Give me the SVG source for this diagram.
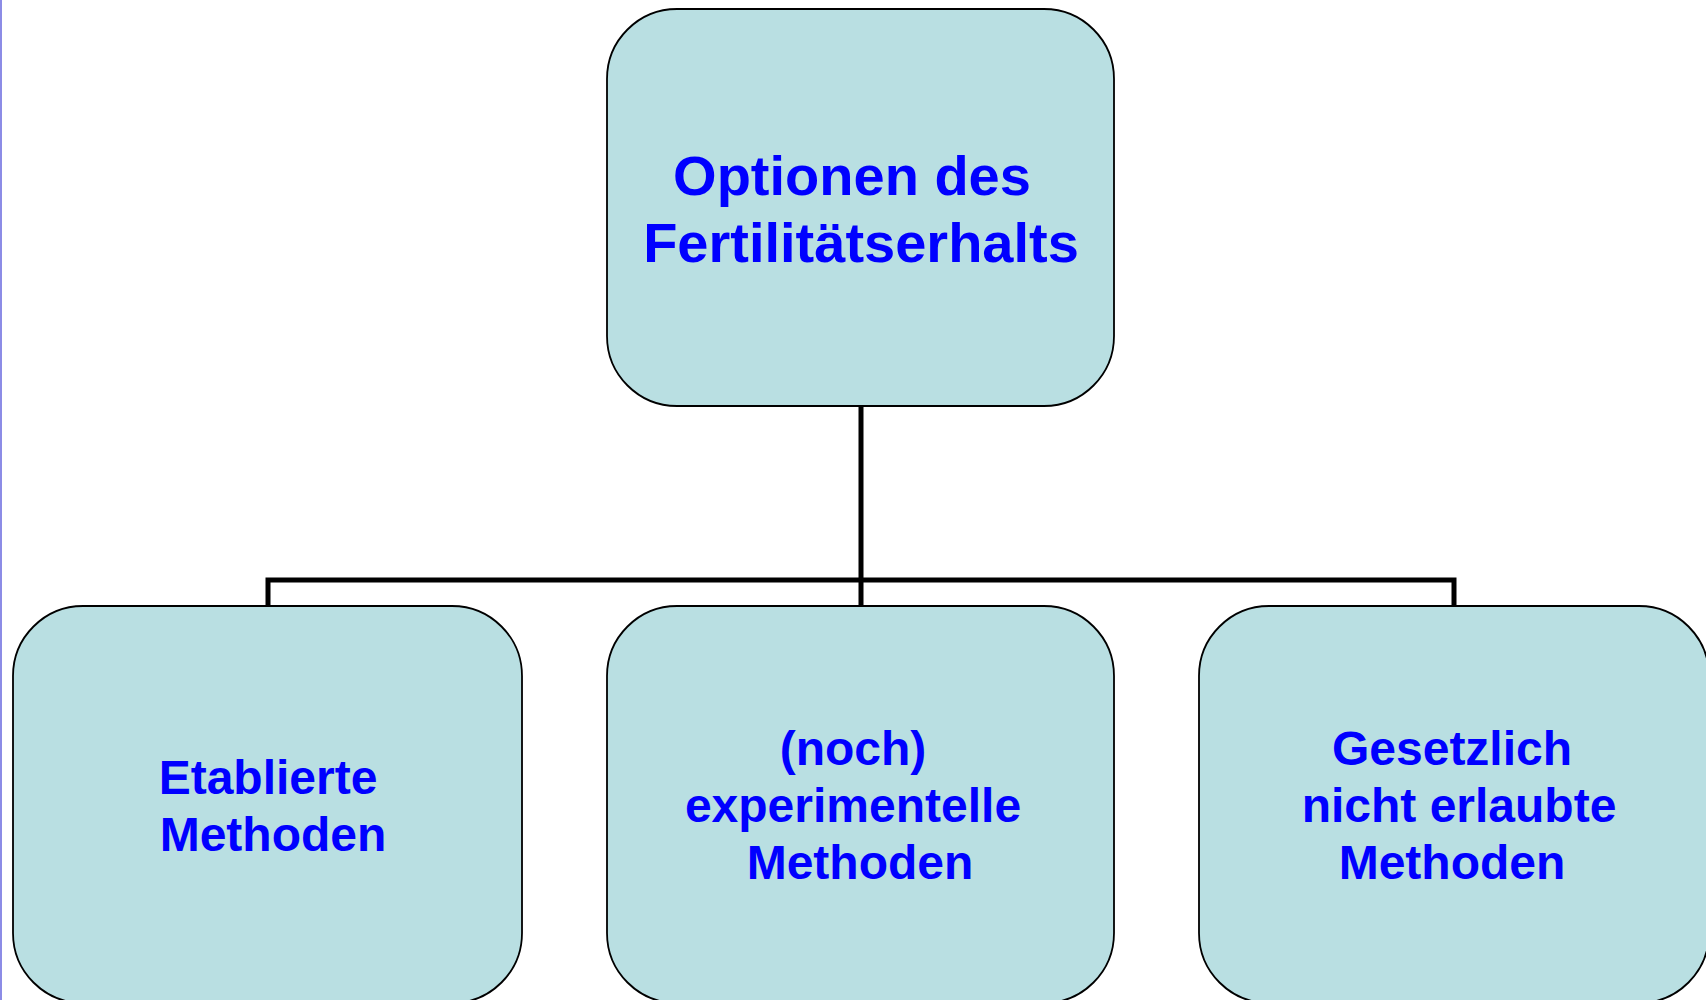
<svg xmlns="http://www.w3.org/2000/svg" width="1706" height="1000" viewBox="0 0 1706 1000">
<style>
.box{fill:#b9dfe2;stroke:#000;stroke-width:1.8}
.t{font-family:"Liberation Sans",Arial,sans-serif;font-weight:bold;fill:#0000ff;text-anchor:middle}
.big{font-size:56px}
.sm{font-size:48px}
.con{fill:none;stroke:#000;stroke-width:5}
</style>
<rect x="0" y="0" width="1706" height="1000" fill="#fff"/>
<line x1="1" y1="0" x2="1" y2="1000" stroke="#8c8ce6" stroke-width="2"/>
<g id="connectors">
<line class="con" x1="861" y1="406" x2="861" y2="606"/>
<polyline class="con" points="268,606 268,580 1454,580 1454,606"/>
</g>
<g id="root">
<rect class="box" x="607" y="9" width="507" height="397" rx="70" ry="70"/>
<text class="t big" x="852" y="195">Optionen des</text>
<text class="t big" x="861" y="262">Fertilitätserhalts</text>
</g>
<g id="etabliert">
<rect class="box" x="13" y="606" width="509" height="397" rx="70" ry="70"/>
<text class="t sm" x="268" y="794">Etablierte</text>
<text class="t sm" x="273" y="851">Methoden</text>
</g>
<g id="experimentell">
<rect class="box" x="607" y="606" width="507" height="397" rx="70" ry="70"/>
<text class="t sm" x="853" y="765">(noch)</text>
<text class="t sm" x="853" y="822">experimentelle</text>
<text class="t sm" x="860" y="879">Methoden</text>
</g>
<g id="nichterlaubt">
<rect class="box" x="1199" y="606" width="510" height="397" rx="70" ry="70"/>
<text class="t sm" x="1452" y="765">Gesetzlich</text>
<text class="t sm" x="1459" y="822">nicht erlaubte</text>
<text class="t sm" x="1452" y="879">Methoden</text>
</g>
</svg>
